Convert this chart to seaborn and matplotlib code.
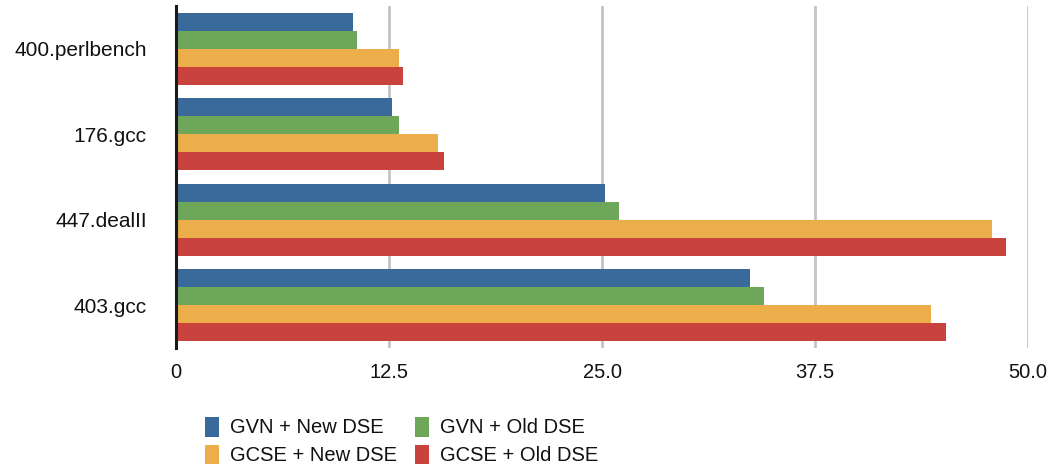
import matplotlib
matplotlib.use("Agg")
import matplotlib.pyplot as plt
import seaborn as sns
import pandas as pd
from matplotlib.patches import Patch

categories = ["400.perlbench", "176.gcc", "447.dealII", "403.gcc"]
series = ["GVN + New DSE", "GVN + Old DSE", "GCSE + New DSE", "GCSE + Old DSE"]
gvn_new = [10.4, 12.7, 25.2, 33.7]
gvn_old = [10.6, 13.1, 26.0, 34.5]
gcse_new = [13.1, 15.4, 47.9, 44.3]
gcse_old = [13.3, 15.7, 48.7, 45.2]
colors = ["#3a6a9b", "#6ea65a", "#ecae4b", "#ca423e"]
xticks = [0, 12.5, 25.0, 37.5, 50.0]
xtick_labels = ["0", "12.5", "25.0", "37.5", "50.0"]

rows = []
for s, vals in zip(series, [gvn_new, gvn_old, gcse_new, gcse_old]):
    for c, v in zip(categories, vals):
        rows.append({"category": c, "series": s, "value": v})
df = pd.DataFrame(rows)

sns.set_style("white")
plt.rcParams["font.family"] = ["Liberation Sans", "DejaVu Sans"]
plt.rcParams["text.color"] = "#111111"
plt.rcParams["xtick.color"] = "#111111"
plt.rcParams["ytick.color"] = "#111111"

fig = plt.figure(figsize=(10.53, 4.73), dpi=100)
ax = fig.add_axes([176 / 1053, 1 - 348 / 473, (1028 - 176) / 1053, (348 - 6) / 473])

sns.barplot(data=df, y="category", x="value", hue="series", order=categories,
            hue_order=series, palette=colors, orient="h", width=0.84, gap=0,
            saturation=1, linewidth=0, ax=ax, legend=False)

ax.set_xlim(0, 50)
ax.set_ylim(3.5, -0.5)
ax.set_xticks(xticks)
ax.set_xticklabels(xtick_labels, fontsize=14.5)
ax.tick_params(axis="x", length=0, pad=11)
ax.tick_params(axis="y", length=0, pad=21, labelsize=15)
ax.set_xlabel("")
ax.set_ylabel("")
ax.xaxis.grid(True, color="#c4c4c4", linewidth=2)
ax.yaxis.grid(False)
ax.set_axisbelow(True)
for side in ["top", "right", "bottom"]:
    ax.spines[side].set_visible(False)
ax.spines["left"].set_color("#1a1a1a")
ax.spines["left"].set_linewidth(2.2)
ax.spines["left"].set_zorder(5)

# legend filled row by row (matplotlib fills columns first)
order = [0, 2, 1, 3]
handles = [Patch(facecolor=colors[i], edgecolor="none") for i in order]
labels = [series[i] for i in order]
fs = 14.5
px = fs * 100 / 72
leg = fig.legend(handles, labels, ncol=2, loc="center left",
                 bbox_to_anchor=(205 / 1053, 1 - 441 / 473), frameon=False,
                 prop={"size": fs},
                 handlelength=14 / px, handleheight=23 / px,
                 handletextpad=11 / px, labelspacing=0.35, columnspacing=0.9,
                 borderpad=0, borderaxespad=0)

fig.savefig("out.png", dpi=100)
